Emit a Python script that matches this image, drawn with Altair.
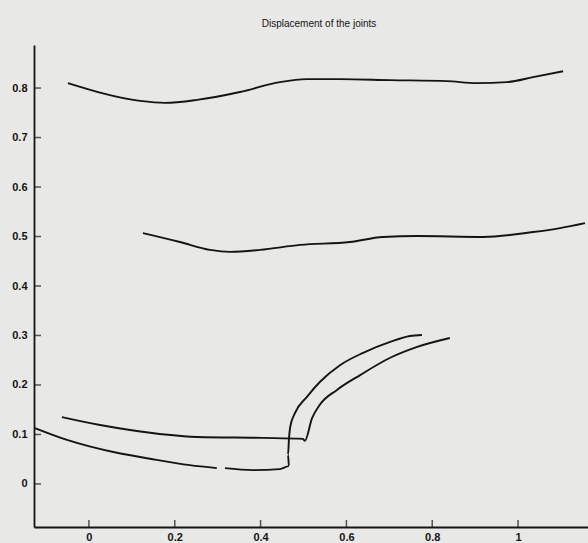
import altair as alt
import pandas as pd

# Joint trajectories (x, y) traced for each joint marker
upper_x = [-0.049, 0.119, 0.177, 0.252, 0.352, 0.445, 0.508, 0.585, 0.702, 0.834, 0.904, 0.974, 1.035, 1.105]
upper_y = [0.810, 0.774, 0.770, 0.776, 0.792, 0.812, 0.818, 0.818, 0.816, 0.814, 0.810, 0.812, 0.822, 0.834]

middle_x = [0.126, 0.212, 0.282, 0.329, 0.399, 0.492, 0.608, 0.685, 0.765, 0.918, 1.035, 1.098, 1.156]
middle_y = [0.507, 0.489, 0.473, 0.469, 0.473, 0.483, 0.489, 0.499, 0.501, 0.499, 0.509, 0.517, 0.527]

heel_x = [-0.063, 0.026, 0.096, 0.252, 0.406, 0.499, 0.503, 0.520, 0.538, 0.578, 0.632, 0.702, 0.765, 0.841]
heel_y = [0.135, 0.119, 0.109, 0.095, 0.093, 0.091, 0.087, 0.133, 0.160, 0.190, 0.220, 0.255, 0.277, 0.295]

toe_a_x = [-0.126, -0.051, 0.065, 0.142, 0.235, 0.298]
toe_a_y = [0.113, 0.089, 0.063, 0.051, 0.038, 0.032]

toe_b_x = [0.317, 0.382, 0.445, 0.466, 0.464, 0.466, 0.469, 0.480, 0.508, 0.538, 0.585, 0.639, 0.702, 0.748, 0.776]
toe_b_y = [0.032, 0.028, 0.030, 0.036, 0.059, 0.089, 0.115, 0.143, 0.176, 0.206, 0.240, 0.265, 0.287, 0.299, 0.301]

y_ticks = [0, 0.1, 0.2, 0.3, 0.4, 0.5, 0.6, 0.7, 0.8]
x_ticks = [0, 0.2, 0.4, 0.6, 0.8, 1]

X_DOMAIN = [-0.128, 1.163]
Y_DOMAIN = [-0.087, 0.887]
W, H = 554, 482
INK = "#141414"
FONT = "Liberation Sans"


def trace(name, xs, ys):
    return pd.DataFrame({"x": xs, "y": ys, "seg": name, "k": range(len(xs))})


lines_df = pd.concat([
    trace("upper", upper_x, upper_y),
    trace("middle", middle_x, middle_y),
    trace("heel", heel_x, heel_y),
    trace("toe_a", toe_a_x, toe_a_y),
    trace("toe_b", toe_b_x, toe_b_y),
], ignore_index=True)

xs = alt.Scale(domain=X_DOMAIN, nice=False, zero=False)
ys = alt.Scale(domain=Y_DOMAIN, nice=False, zero=False)

axis_style = dict(
    tickSize=0, grid=False, domainColor=INK, domainWidth=1.8,
    labelFont=FONT, labelFontSize=11, labelFontWeight="bold", labelColor=INK, title=None,
)

lines = alt.Chart(lines_df).mark_line(color=INK, strokeWidth=1.9, interpolate="monotone").encode(
    x=alt.X("x:Q", scale=xs, axis=alt.Axis(values=x_ticks, format=".1~f", labelPadding=4, **axis_style)),
    y=alt.Y("y:Q", scale=ys, axis=alt.Axis(values=y_ticks, format=".1~f", labelPadding=7, **axis_style)),
    detail="seg:N",
    order="k:Q",
)

# inward-pointing tick marks on both axes
yt = alt.Chart(pd.DataFrame({"y": y_ticks})).mark_tick(
    orient="horizontal", size=7, thickness=1.5, color=INK
).encode(y=alt.Y("y:Q", scale=ys), x=alt.value(3.5))

xt = alt.Chart(pd.DataFrame({"x": x_ticks})).mark_tick(
    orient="vertical", size=7, thickness=1.5, color=INK
).encode(x=alt.X("x:Q", scale=xs), y=alt.value(H - 3.5))

chart = alt.layer(lines, yt, xt).properties(
    width=W,
    height=H,
    title=alt.TitleParams(
        "Displacement of the joints", font=FONT, fontSize=10, fontWeight="normal",
        color=INK, anchor="middle", baseline="bottom", offset=6, dx=8,
    ),
    autosize=alt.AutoSizeParams(type="none"),
    padding={"left": 34, "top": 45, "right": 0, "bottom": 16},
    background="#e8e8e6",
).configure_view(stroke=None)

chart.save("out.html", embed_options={"renderer": "svg", "actions": False})
